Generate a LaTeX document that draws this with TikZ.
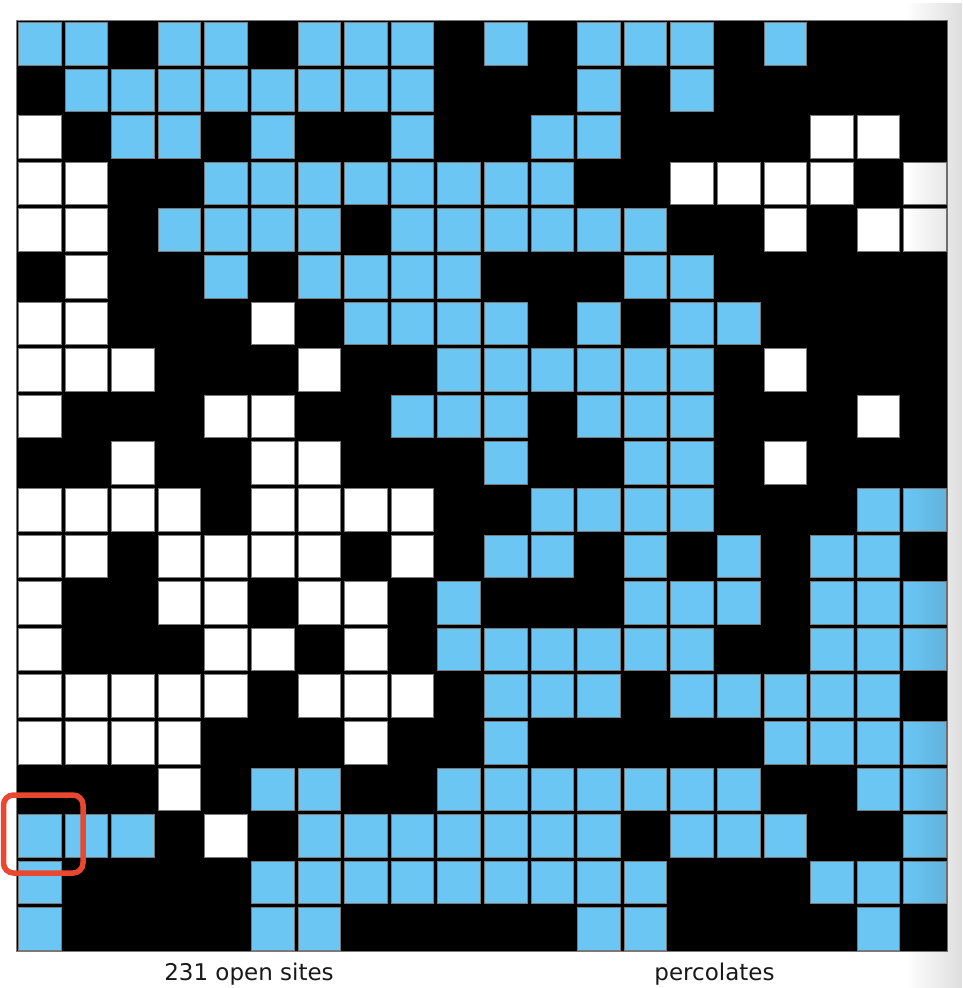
\documentclass[tikz,border=0pt]{standalone}
\usepackage{fontspec}
\setmainfont{DejaVu Sans}
\usepackage{xcolor}
\usetikzlibrary{fadings}
\definecolor{celeste}{HTML}{6BC6F4}
\definecolor{borde}{HTML}{7A7A7A}
\definecolor{marca}{HTML}{E8482F}
\tikzfading[name=sombra, left color=transparent!100, right color=transparent!0]

\begin{document}
\begin{tikzpicture}[
  x=1pt, y=-1pt,
  font=\fontsize{23}{27}\selectfont,
  lleno/.style={fill=celeste, draw=borde, line width=0.7pt},
  abierto/.style={fill=white, draw=borde, line width=0.7pt},
  rotulo/.style={anchor=base, text=black!90}
]
  \useasboundingbox (0,0) rectangle (962,988);
  \fill[white] (0,0) rectangle (962,988);
  \filldraw[fill=black, draw=borde, line width=0.8pt] (16.3,20.3) rectangle (947.5,951);

  \foreach \r/\cols in {0/{0,1,3,4,6,7,8,10,12,13,14,16}, 1/{1,2,3,4,5,6,7,8,12,14},
      2/{2,3,5,8,11,12}, 3/{4,5,6,7,8,9,10,11}, 4/{3,4,5,6,8,9,10,11,12,13},
      5/{4,6,7,8,9,13,14}, 6/{7,8,9,10,12,14,15}, 7/{9,10,11,12,13,14},
      8/{8,9,10,12,13,14}, 9/{10,13,14}, 10/{11,12,13,14,18,19},
      11/{10,11,13,15,17,18}, 12/{9,13,14,15,17,18,19}, 13/{9,10,11,12,13,14,17,18,19},
      14/{10,11,12,14,15,16,17,18}, 15/{10,16,17,18,19},
      16/{5,6,9,10,11,12,13,14,15,18,19},
      17/{0,1,2,6,7,8,9,10,11,12,14,15,16,19},
      18/{0,5,6,7,8,9,10,11,12,13,17,18,19}, 19/{0,5,6,12,13,18}}
    \foreach \c in \cols
      \filldraw[lleno] ({18.3+46.6*\c},{22.3+46.6*\r}) rectangle +(42.6,42.6);

  \foreach \r/\cols in {2/{0,17,18}, 3/{0,1,14,15,16,17,19}, 4/{0,1,16,18,19},
      5/{1}, 6/{0,1,5}, 7/{0,1,2,6,16}, 8/{0,4,5,18}, 9/{2,5,6,16},
      10/{0,1,2,3,5,6,7,8}, 11/{0,1,3,4,5,6,8}, 12/{0,3,4,6,7}, 13/{0,4,5,7},
      14/{0,1,2,3,4,6,7,8}, 15/{0,1,2,3,7}, 16/{3}, 17/{4}}
    \foreach \c in \cols
      \filldraw[abierto] ({18.3+46.6*\c},{22.3+46.6*\r}) rectangle +(42.6,42.6);

  \draw[marca, line width=5.5pt, rounded corners=10pt] (3.5,795) rectangle (83,873);

  \node[rotulo] (sitios) at (249,980.6) {231 open sites};
  \node[rotulo] (estado) at (714.5,980.6) {percolates};

  \fill[black, opacity=0.13, path fading=sombra] (905,0) rectangle (962,988);
\end{tikzpicture}
\end{document}
